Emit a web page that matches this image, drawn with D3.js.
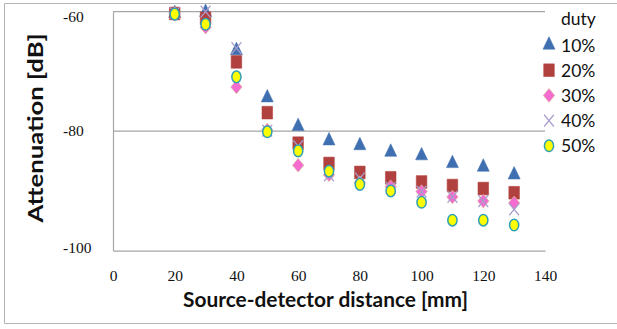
<!DOCTYPE html>
<html>
<head>
<meta charset="utf-8">
<script src="https://cdn.jsdelivr.net/npm/d3@7"></script>
<style>
    body { margin: 0; background: #fff; }
    svg { display: block; }
    .axis text { font-family: "Liberation Serif", "Times New Roman", serif; font-size: 15.5px; }
</style>
</head>
<body>
<svg id="chart" width="617" height="329"></svg>
<script>
    "use strict";

    // source-detector distance [mm]
    var distance = [20, 30, 40, 50, 60, 70, 80, 90, 100, 110, 120, 130]

    // attenuation [dB] for each duty cycle
    var duty10 = [-60.3, -60.1, -66.5, -74.4, -79.2, -81.6, -82.4, -83.5, -84.1, -85.4, -86.0, -87.3]
    var duty20 = [-60.3, -61.1, -68.4, -76.9, -82.0, -85.4, -86.9, -87.8, -88.5, -89.1, -89.6, -90.3]
    var duty30 = [-60.3, -62.6, -72.6, -79.8, -85.7, -87.3, -88.6, -89.3, -90.1, -91.0, -91.7, -92.0]
    var duty40 = [-60.2, -60.0, -66.1, -79.9, -82.5, -87.4, -87.9, -89.5, -90.1, -91.0, -91.7, -93.1]
    var duty50 = [-60.4, -62.1, -70.9, -80.1, -83.3, -86.7, -88.9, -90.0, -91.9, -94.9, -94.9, -95.7]

    var seriesNames = ["10%", "20%", "30%", "40%", "50%"]
    var xTicks = [0, 20, 40, 60, 80, 100, 120, 140]
    var yTicks = [-60, -80, -100]

    var seriesData = [duty10, duty20, duty30, duty40, duty50]

    var svg = d3.select("#chart")
    var plotLeft = 113, plotRight = 545, plotTop = 11.7, plotBottom = 250.7
    var stretch = 1.2

    var x = d3.scaleLinear().domain([0, 140]).range([plotLeft, plotRight])
    var y = d3.scaleLinear().domain([-100, -60]).range([plotBottom, plotTop])

    var gray = "#a6a6a6"
    var plainNumber = function(d) { return String(d) }

    // outer chart frame
    svg.append("path")
        .attr("d", "M617,3.5 H4.5 V323.5 H617")
        .attr("fill", "none")
        .attr("stroke", "#b4b4b4")
        .attr("stroke-width", 1)

    // gridlines
    svg.append("g").selectAll("line")
        .data(yTicks.filter(function(d) { return d !== -100 }))
        .enter().append("line")
        .attr("x1", plotLeft).attr("x2", plotRight)
        .attr("y1", function(d) { return y(d) })
        .attr("y2", function(d) { return y(d) })
        .attr("stroke", gray)
        .attr("stroke-width", 1.2)

    // axes
    var xAxis = d3.axisBottom(x).tickValues(xTicks).tickFormat(plainNumber)
        .tickSize(0).tickPadding(19)
    var gx = svg.append("g")
        .attr("class", "axis axis-x")
        .attr("transform", "translate(0," + plotBottom + ")")
        .call(xAxis)
    gx.select(".domain").attr("stroke", gray).attr("stroke-width", 1.2)
    gx.selectAll("text").attr("fill", "#111")

    var yAxis = d3.axisLeft(y).tickValues(yTicks).tickFormat(plainNumber).tickSize(0)
    var gy = svg.append("g")
        .attr("class", "axis axis-y")
        .attr("transform", "translate(" + plotLeft + ",0)")
        .call(yAxis)
    gy.select(".domain").attr("stroke", gray).attr("stroke-width", 1.2)
    gy.selectAll(".tick").attr("transform", function(d) {
        return "translate(0," + Math.min(Math.max(y(d), 16.7), 248.3) + ")"
    })
    gy.selectAll("text")
        .attr("x", 63 - plotLeft)
        .attr("text-anchor", "start")
        .attr("fill", "#111")

    // axis titles
    svg.append("text")
        .attr("x", 325.5)
        .attr("y", 307)
        .attr("text-anchor", "middle")
        .attr("textLength", 285)
        .attr("lengthAdjust", "spacingAndGlyphs")
        .style("font-family", "Lato, 'Open Sans', sans-serif")
        .style("font-weight", "bold")
        .style("font-size", "21px")
        .attr("fill", "#111")
        .text("Source-detector distance [mm]")

    svg.append("text")
        .attr("transform", "translate(43,128) rotate(-90)")
        .attr("text-anchor", "middle")
        .attr("textLength", 189)
        .attr("lengthAdjust", "spacingAndGlyphs")
        .style("font-family", "Lato, 'Open Sans', sans-serif")
        .style("font-weight", "bold")
        .style("font-size", "21px")
        .attr("fill", "#111")
        .text("Attenuation [dB]")

    // marker styles, one per series
    var markers = [
        { type: d3.symbolTriangle, size: 62, fill: "#3f6fb0", stroke: "#3f6fb0", sw: 0.5, rotate: 0 },
        { type: d3.symbolSquare, size: 112, fill: "#b0413e", stroke: "#b0413e", sw: 0.5, rotate: 0 },
        { type: d3.symbolSquare, size: 64, fill: "#f56bcf", stroke: "#d9b59a", sw: 0.6, rotate: 45 },
        { type: d3.symbolTimes, size: 64, fill: "none", stroke: "#a99ccd", sw: 1.2, rotate: 0 },
        { type: "ellipse", fill: "#ffff00", stroke: "#2f9fb5", sw: 1.5 }
    ]

    function drawMarker(g, m) {
        if (m.type === "ellipse") {
            g.append("ellipse")
                .attr("rx", 4.6).attr("ry", 5.8)
                .attr("fill", m.fill)
                .attr("stroke", m.stroke)
                .attr("stroke-width", m.sw)
        } else {
            g.append("path")
                .attr("d", d3.symbol().type(m.type).size(m.size)())
                .attr("transform", "scale(1," + stretch + ") rotate(" + m.rotate + ")")
                .attr("fill", m.fill)
                .attr("stroke", m.stroke)
                .attr("stroke-width", m.sw)
        }
    }

    seriesData.forEach(function(values, i) {
        var pts = values.map(function(v, j) { return { x: distance[j], y: v } })
        svg.append("g").attr("class", "series series-" + i)
            .selectAll(".datapoint")
            .data(pts).enter()
            .append("g")
            .attr("class", "datapoint")
            .attr("transform", function(d) { return "translate(" + x(d.x) + "," + y(d.y) + ")" })
            .each(function() { drawMarker(d3.select(this), markers[i]) })
    })

    // legend
    var legend = svg.append("g").attr("class", "legend")
    legend.append("text")
        .attr("x", 561).attr("y", 25)
        .style("font-family", "Lato, 'Open Sans', sans-serif")
        .style("font-size", "17.5px")
        .attr("fill", "#111")
        .text("duty")

    var items = legend.selectAll(".item")
        .data(seriesNames).enter()
        .append("g")
        .attr("class", "item")
        .attr("transform", function(d, i) { return "translate(0," + (45 + i * 25.2) + ")" })

    items.append("g")
        .attr("transform", "translate(549,0)")
        .each(function(d, i) { drawMarker(d3.select(this), markers[i]) })

    items.append("text")
        .attr("x", 561).attr("y", 6.5)
        .style("font-family", "Lato, 'Open Sans', sans-serif")
        .style("font-size", "17.5px")
        .attr("fill", "#111")
        .text(function(d) { return d })
</script>
</body>
</html>
